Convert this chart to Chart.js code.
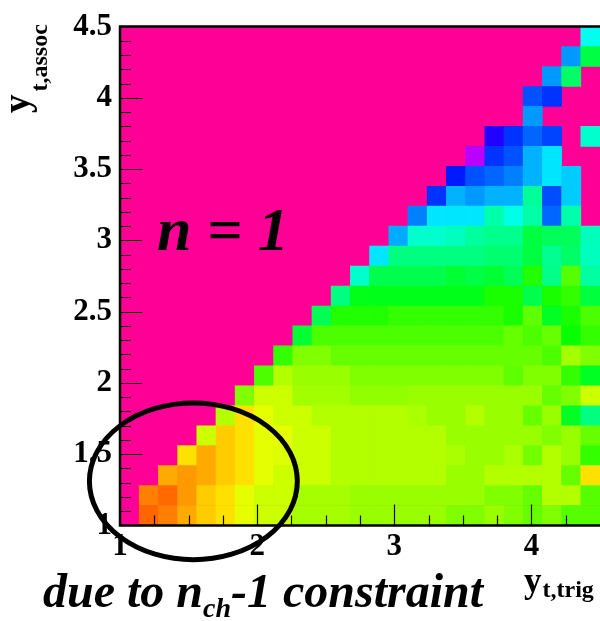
<!DOCTYPE html>
<html>
<head>
<meta charset="utf-8">
<script src="https://cdn.jsdelivr.net/npm/chart.js@4.4.0/dist/chart.umd.min.js"></script>
<style>
  html, body { margin: 0; padding: 0; background: #fff; overflow: hidden; }
  #wrap { position: relative; width: 600px; height: 621px; }
</style>
</head>
<body>
<div id="wrap"><canvas id="chart"></canvas></div>
<script>
// binning, same on both axes
const xMin = 1, xMax = 4.5, yMin = 1, yMax = 4.5;
const binWidth = 0.14;

const xMajorTicks = [1, 2, 3, 4];
const yMajorTicks = [1, 1.5, 2, 2.5, 3, 3.5, 4, 4.5];
const xMinorStep = 0.25;
const yMinorStep = 0.1;

// bin content as palette hue, row 0 = lowest y bin, column 0 = lowest x bin; null = empty
const _ = null;
const z = [
  [_,24,30,40,48,53,66,72,72,81,81,81,84,84,84,84,84,90,90,84,90,96,90,100,100],
  [_,30,25,36,48,53,66,72,72,81,81,81,84,84,84,84,84,84,84,90,90,96,78,78,100],
  [_,_,40,36,40,48,53,66,72,72,72,78,78,78,78,78,78,84,84,78,78,78,78,96,53],
  [_,_,_,53,40,48,53,66,68,72,72,78,78,78,78,78,78,80,84,84,80,93,78,84,108],
  [_,_,_,_,72,48,53,66,66,72,72,78,78,78,78,78,78,84,84,84,84,84,90,84,96],
  [_,_,_,_,_,78,53,66,72,72,78,78,78,78,78,80,84,84,78,84,84,96,84,128,150],
  [_,_,_,_,_,_,90,72,72,82,82,82,86,86,86,84,84,84,84,84,84,84,96,90,72],
  [_,_,_,_,_,_,_,102,78,84,84,84,90,90,90,90,90,90,90,90,98,90,90,108,128],
  [_,_,_,_,_,_,_,_,108,90,90,96,96,96,96,96,96,96,96,96,96,96,102,81,90],
  [_,_,_,_,_,_,_,_,_,132,102,102,102,102,102,102,102,102,102,102,96,102,96,118,108],
  [_,_,_,_,_,_,_,_,_,_,140,112,112,112,108,108,108,108,108,108,114,98,128,114,102],
  [_,_,_,_,_,_,_,_,_,_,_,150,126,126,126,126,126,126,126,114,114,138,114,108,134],
  [_,_,_,_,_,_,_,_,_,_,_,_,168,138,138,138,138,132,136,132,140,112,152,100,158],
  [_,_,_,_,_,_,_,_,_,_,_,_,_,186,150,150,150,150,150,146,146,135,154,144,165],
  [_,_,_,_,_,_,_,_,_,_,_,_,_,_,200,168,168,165,157,153,153,135,141,141,164],
  [_,_,_,_,_,_,_,_,_,_,_,_,_,_,_,210,186,186,186,160,174,159,216,160,_],
  [_,_,_,_,_,_,_,_,_,_,_,_,_,_,_,_,228,198,204,198,198,156,222,192,_],
  [_,_,_,_,_,_,_,_,_,_,_,_,_,_,_,_,_,234,221,216,210,198,186,192,_],
  [_,_,_,_,_,_,_,_,_,_,_,_,_,_,_,_,_,_,284,228,221,198,186,_,_],
  [_,_,_,_,_,_,_,_,_,_,_,_,_,_,_,_,_,_,_,248,228,216,224,_,168],
  [_,_,_,_,_,_,_,_,_,_,_,_,_,_,_,_,_,_,_,_,_,204,_,_,_],
  [_,_,_,_,_,_,_,_,_,_,_,_,_,_,_,_,_,_,_,_,_,221,228,_,_],
  [_,_,_,_,_,_,_,_,_,_,_,_,_,_,_,_,_,_,_,_,_,_,204,144,_],
  [_,_,_,_,_,_,_,_,_,_,_,_,_,_,_,_,_,_,_,_,_,_,_,204,136],
  [_,_,_,_,_,_,_,_,_,_,_,_,_,_,_,_,_,_,_,_,_,_,_,_,176]
];

// circled region, in axis units
const ellipse = { x: 1.535, y: 1.31, rx: 0.758, ry: 0.55 };
const label = { x: 1.27, y: 2.93, text: 'n = 1' };

const emptyColor = '#ff0096';
const serif = '"Liberation Serif", "DejaVu Serif", serif';

function binColor(v) {
  return 'hsl(' + v + ', 100%, 50%)';
}

const datasets = z.map((row, j) => {
  const pts = [];
  const cols = [];
  row.forEach((v, i) => {
    if (v === null) return;
    pts.push({ x: xMin + binWidth * (i + 0.5), y: [yMin + binWidth * j, yMin + binWidth * (j + 1)] });
    cols.push(binColor(v));
  });
  return {
    data: pts,
    backgroundColor: cols,
    borderWidth: 0,
    grouped: false,
    barPercentage: 1,
    categoryPercentage: 1
  };
});

function isMajor(v, step) {
  return Math.abs(v / step - Math.round(v / step)) < 1e-6;
}

const frame = {
  id: 'frame',
  beforeDatasetsDraw(chart) {
    const { ctx, chartArea: a } = chart;
    ctx.save();
    ctx.fillStyle = emptyColor;
    ctx.fillRect(a.left, a.top, a.right - a.left, a.bottom - a.top);
    ctx.restore();
  },
  afterDatasetsDraw(chart) {
    const { ctx, chartArea: a, scales: { x, y } } = chart;
    ctx.save();
    ctx.strokeStyle = '#000';
    ctx.lineWidth = 1.2;
    ctx.beginPath();
    for (let v = yMin + yMinorStep; v < yMax - 1e-6; v += yMinorStep) {
      const p = Math.round(y.getPixelForValue(v)) + 0.5;
      ctx.moveTo(a.left, p);
      ctx.lineTo(a.left + (isMajor(v, 0.5) ? 22 : 11), p);
    }
    for (let v = xMin + xMinorStep; v < xMax - 1e-6; v += xMinorStep) {
      const p = Math.round(x.getPixelForValue(v)) + 0.5;
      ctx.moveTo(p, a.bottom);
      ctx.lineTo(p, a.bottom - (isMajor(v, 1) ? 21 : 10));
    }
    ctx.stroke();
    ctx.lineWidth = 2.5;
    ctx.beginPath();
    ctx.moveTo(a.right + 2, a.top);
    ctx.lineTo(a.left, a.top);
    ctx.lineTo(a.left, a.bottom);
    ctx.lineTo(a.right + 2, a.bottom);
    ctx.stroke();
    ctx.restore();
  },
  afterDraw(chart) {
    const { ctx, scales: { x, y } } = chart;
    ctx.save();
    // ellipse
    const cx = x.getPixelForValue(ellipse.x);
    const cy = y.getPixelForValue(ellipse.y);
    const rx = x.getPixelForValue(ellipse.x + ellipse.rx) - cx;
    const ry = cy - y.getPixelForValue(ellipse.y + ellipse.ry);
    ctx.strokeStyle = '#000';
    ctx.lineWidth = 5;
    ctx.beginPath();
    ctx.ellipse(cx, cy, rx, ry, 0, 0, Math.PI * 2);
    ctx.stroke();

    ctx.fillStyle = '#000';
    ctx.textBaseline = 'alphabetic';
    ctx.textAlign = 'left';

    // n = 1
    ctx.font = 'italic bold 62px ' + serif;
    ctx.fillText(label.text, x.getPixelForValue(label.x), y.getPixelForValue(label.y));

    // bottom note
    let px = 43;
    ctx.font = 'italic bold 48px ' + serif;
    ctx.fillText('due to n', px, 607);
    px += ctx.measureText('due to n').width;
    ctx.font = 'italic bold 28px ' + serif;
    ctx.fillText('ch', px, 617);
    px += ctx.measureText('ch').width;
    ctx.font = 'italic bold 48px ' + serif;
    ctx.fillText('-1 constraint', px, 607);

    // x title
    ctx.font = 'bold 35px ' + serif;
    ctx.fillText('y', 524, 592);
    let tx = 524 + ctx.measureText('y').width + 1;
    ctx.font = 'bold 24px ' + serif;
    ctx.fillText('t,trig', tx, 597);

    // y title
    ctx.translate(29, 113);
    ctx.rotate(-Math.PI / 2);
    ctx.font = 'bold 37px ' + serif;
    ctx.fillText('y', 0, 0);
    tx = ctx.measureText('y').width + 3;
    ctx.font = 'bold 24px ' + serif;
    ctx.fillText('t,assoc', tx, 18);
    ctx.restore();
  }
};

const tickFont = { family: serif, size: 31, weight: 'bold' };

new Chart(document.getElementById('chart'), {
  type: 'bar',
  data: { datasets: datasets },
  options: {
    responsive: true,
    maintainAspectRatio: false,
    animation: false,
    layout: { padding: { top: 19, right: 0, left: 0, bottom: 0 } },
    plugins: { legend: { display: false }, tooltip: { enabled: false } },
    scales: {
      x: {
        type: 'linear',
        min: xMin,
        max: xMax,
        offset: false,
        afterBuildTicks: s => { s.ticks = xMajorTicks.map(v => ({ value: v })); },
        afterFit: s => { s.height = 95.5; },
        grid: { display: false, drawTicks: false, offset: false },
        border: { display: false },
        ticks: { font: tickFont, color: '#000', padding: 3, maxRotation: 0, autoSkip: false,
                 callback: v => String(v) }
      },
      y: {
        type: 'linear',
        min: yMin,
        max: yMax,
        afterBuildTicks: s => { s.ticks = yMajorTicks.map(v => ({ value: v })); },
        afterFit: s => { s.width = 120; },
        grid: { display: false, drawTicks: false },
        border: { display: false },
        ticks: { font: tickFont, color: '#000', padding: 8, autoSkip: false,
                 callback: v => String(v) }
      }
    }
  },
  plugins: [frame]
});
</script>
</body>
</html>
